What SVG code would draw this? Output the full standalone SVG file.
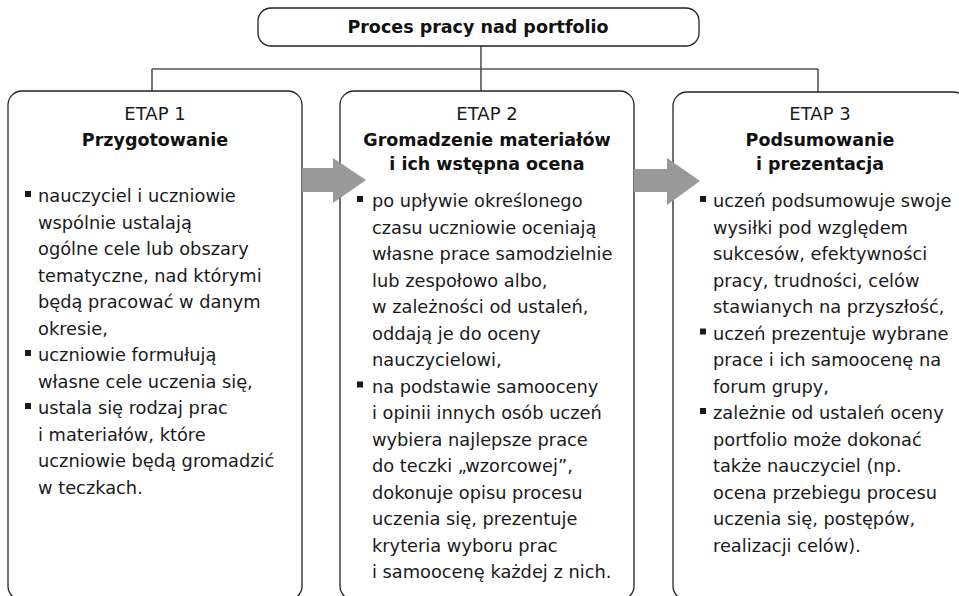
<svg xmlns="http://www.w3.org/2000/svg" width="959" height="596" viewBox="0 0 959 596">
<style>
.box{fill:#fff;stroke:#222;stroke-width:1.3}
.con{fill:none;stroke:#555;stroke-width:1.6}
.arr{fill:#999}
.t{font-family:"DejaVu Sans","Noto Sans",sans-serif;font-size:17.8px;fill:#1a1a1a}
.h{font-family:"DejaVu Sans","Noto Sans",sans-serif;font-size:18px;fill:#1a1a1a;text-anchor:middle}
.b{font-family:"DejaVu Sans","Noto Sans",sans-serif;font-size:17.5px;font-weight:bold;fill:#111;text-anchor:middle}
.bl{fill:#1a1a1a}
</style>
<rect width="959" height="596" fill="#fff"/>
<g id="connectors">
<path class="con" d="M481,46 V91 M152,69 H818 M152,69 V91 M818,69 V92"/>
</g>
<g id="root">
<rect class="box" x="258" y="8" width="441" height="38" rx="13"/>
<text class="b" x="478" y="33">Proces pracy nad portfolio</text>
</g>
<g id="etap1">
<rect class="box" x="8" y="91" width="294" height="509" rx="14"/>
<text class="h" x="155" y="120">ETAP 1</text>
<text class="b" x="155" y="146">Przygotowanie</text>
<rect class="bl" x="25" y="191" width="6" height="6"/>
<rect class="bl" x="25" y="350" width="6" height="6"/>
<rect class="bl" x="25" y="403" width="6" height="6"/>
<text class="t" x="38" y="202">nauczyciel i uczniowie</text>
<text class="t" x="38" y="228.5">wspólnie ustalają</text>
<text class="t" x="38" y="255">ogólne cele lub obszary</text>
<text class="t" x="38" y="281.5">tematyczne, nad którymi</text>
<text class="t" x="38" y="308">będą pracować w danym</text>
<text class="t" x="38" y="334.5">okresie,</text>
<text class="t" x="38" y="361">uczniowie formułują</text>
<text class="t" x="38" y="387.5">własne cele uczenia się,</text>
<text class="t" x="38" y="414">ustala się rodzaj prac</text>
<text class="t" x="38" y="440.5">i materiałów, które</text>
<text class="t" x="38" y="467">uczniowie będą gromadzić</text>
<text class="t" x="38" y="493.5">w teczkach.</text>
</g>
<g id="etap2">
<rect class="box" x="340" y="91" width="294" height="509" rx="14"/>
<text class="h" x="487" y="120">ETAP 2</text>
<text class="b" x="487" y="146">Gromadzenie materiałów</text>
<text class="b" x="487" y="170">i ich wstępna ocena</text>
<rect class="bl" x="357" y="196" width="6" height="6"/>
<rect class="bl" x="357" y="381.5" width="6" height="6"/>
<text class="t" x="372" y="207">po upływie określonego</text>
<text class="t" x="372" y="233.5">czasu uczniowie oceniają</text>
<text class="t" x="372" y="260">własne prace samodzielnie</text>
<text class="t" x="372" y="286.5">lub zespołowo albo,</text>
<text class="t" x="372" y="313">w zależności od ustaleń,</text>
<text class="t" x="372" y="339.5">oddają je do oceny</text>
<text class="t" x="372" y="366">nauczycielowi,</text>
<text class="t" x="372" y="392.5">na podstawie samooceny</text>
<text class="t" x="372" y="419">i opinii innych osób uczeń</text>
<text class="t" x="372" y="445.5">wybiera najlepsze prace</text>
<text class="t" x="372" y="472">do teczki „wzorcowej”,</text>
<text class="t" x="372" y="498.5">dokonuje opisu procesu</text>
<text class="t" x="372" y="525">uczenia się, prezentuje</text>
<text class="t" x="372" y="551.5">kryteria wyboru prac</text>
<text class="t" x="372" y="578">i samoocenę każdej z nich.</text>
</g>
<g id="etap3">
<rect class="box" x="673" y="92" width="294" height="508" rx="14"/>
<text class="h" x="820" y="120">ETAP 3</text>
<text class="b" x="820" y="146">Podsumowanie</text>
<text class="b" x="820" y="170">i prezentacja</text>
<rect class="bl" x="700" y="196" width="6" height="6"/>
<rect class="bl" x="700" y="328.5" width="6" height="6"/>
<rect class="bl" x="700" y="408" width="6" height="6"/>
<text class="t" x="713" y="207">uczeń podsumowuje swoje</text>
<text class="t" x="713" y="233.5">wysiłki pod względem</text>
<text class="t" x="713" y="260">sukcesów, efektywności</text>
<text class="t" x="713" y="286.5">pracy, trudności, celów</text>
<text class="t" x="713" y="313">stawianych na przyszłość,</text>
<text class="t" x="713" y="339.5">uczeń prezentuje wybrane</text>
<text class="t" x="713" y="366">prace i ich samoocenę na</text>
<text class="t" x="713" y="392.5">forum grupy,</text>
<text class="t" x="713" y="419">zależnie od ustaleń oceny</text>
<text class="t" x="713" y="445.5">portfolio może dokonać</text>
<text class="t" x="713" y="472">także nauczyciel (np.</text>
<text class="t" x="713" y="498.5">ocena przebiegu procesu</text>
<text class="t" x="713" y="525">uczenia się, postępów,</text>
<text class="t" x="713" y="551.5">realizacji celów).</text>
</g>
<g id="arrows">
<polygon class="arr" points="302,168 333,168 333,158 366,180 333,203 333,192 302,192"/>
<polygon class="arr" points="634,169 667,169 667,158 700,181 667,205 667,192 634,192"/>
</g>
</svg>
